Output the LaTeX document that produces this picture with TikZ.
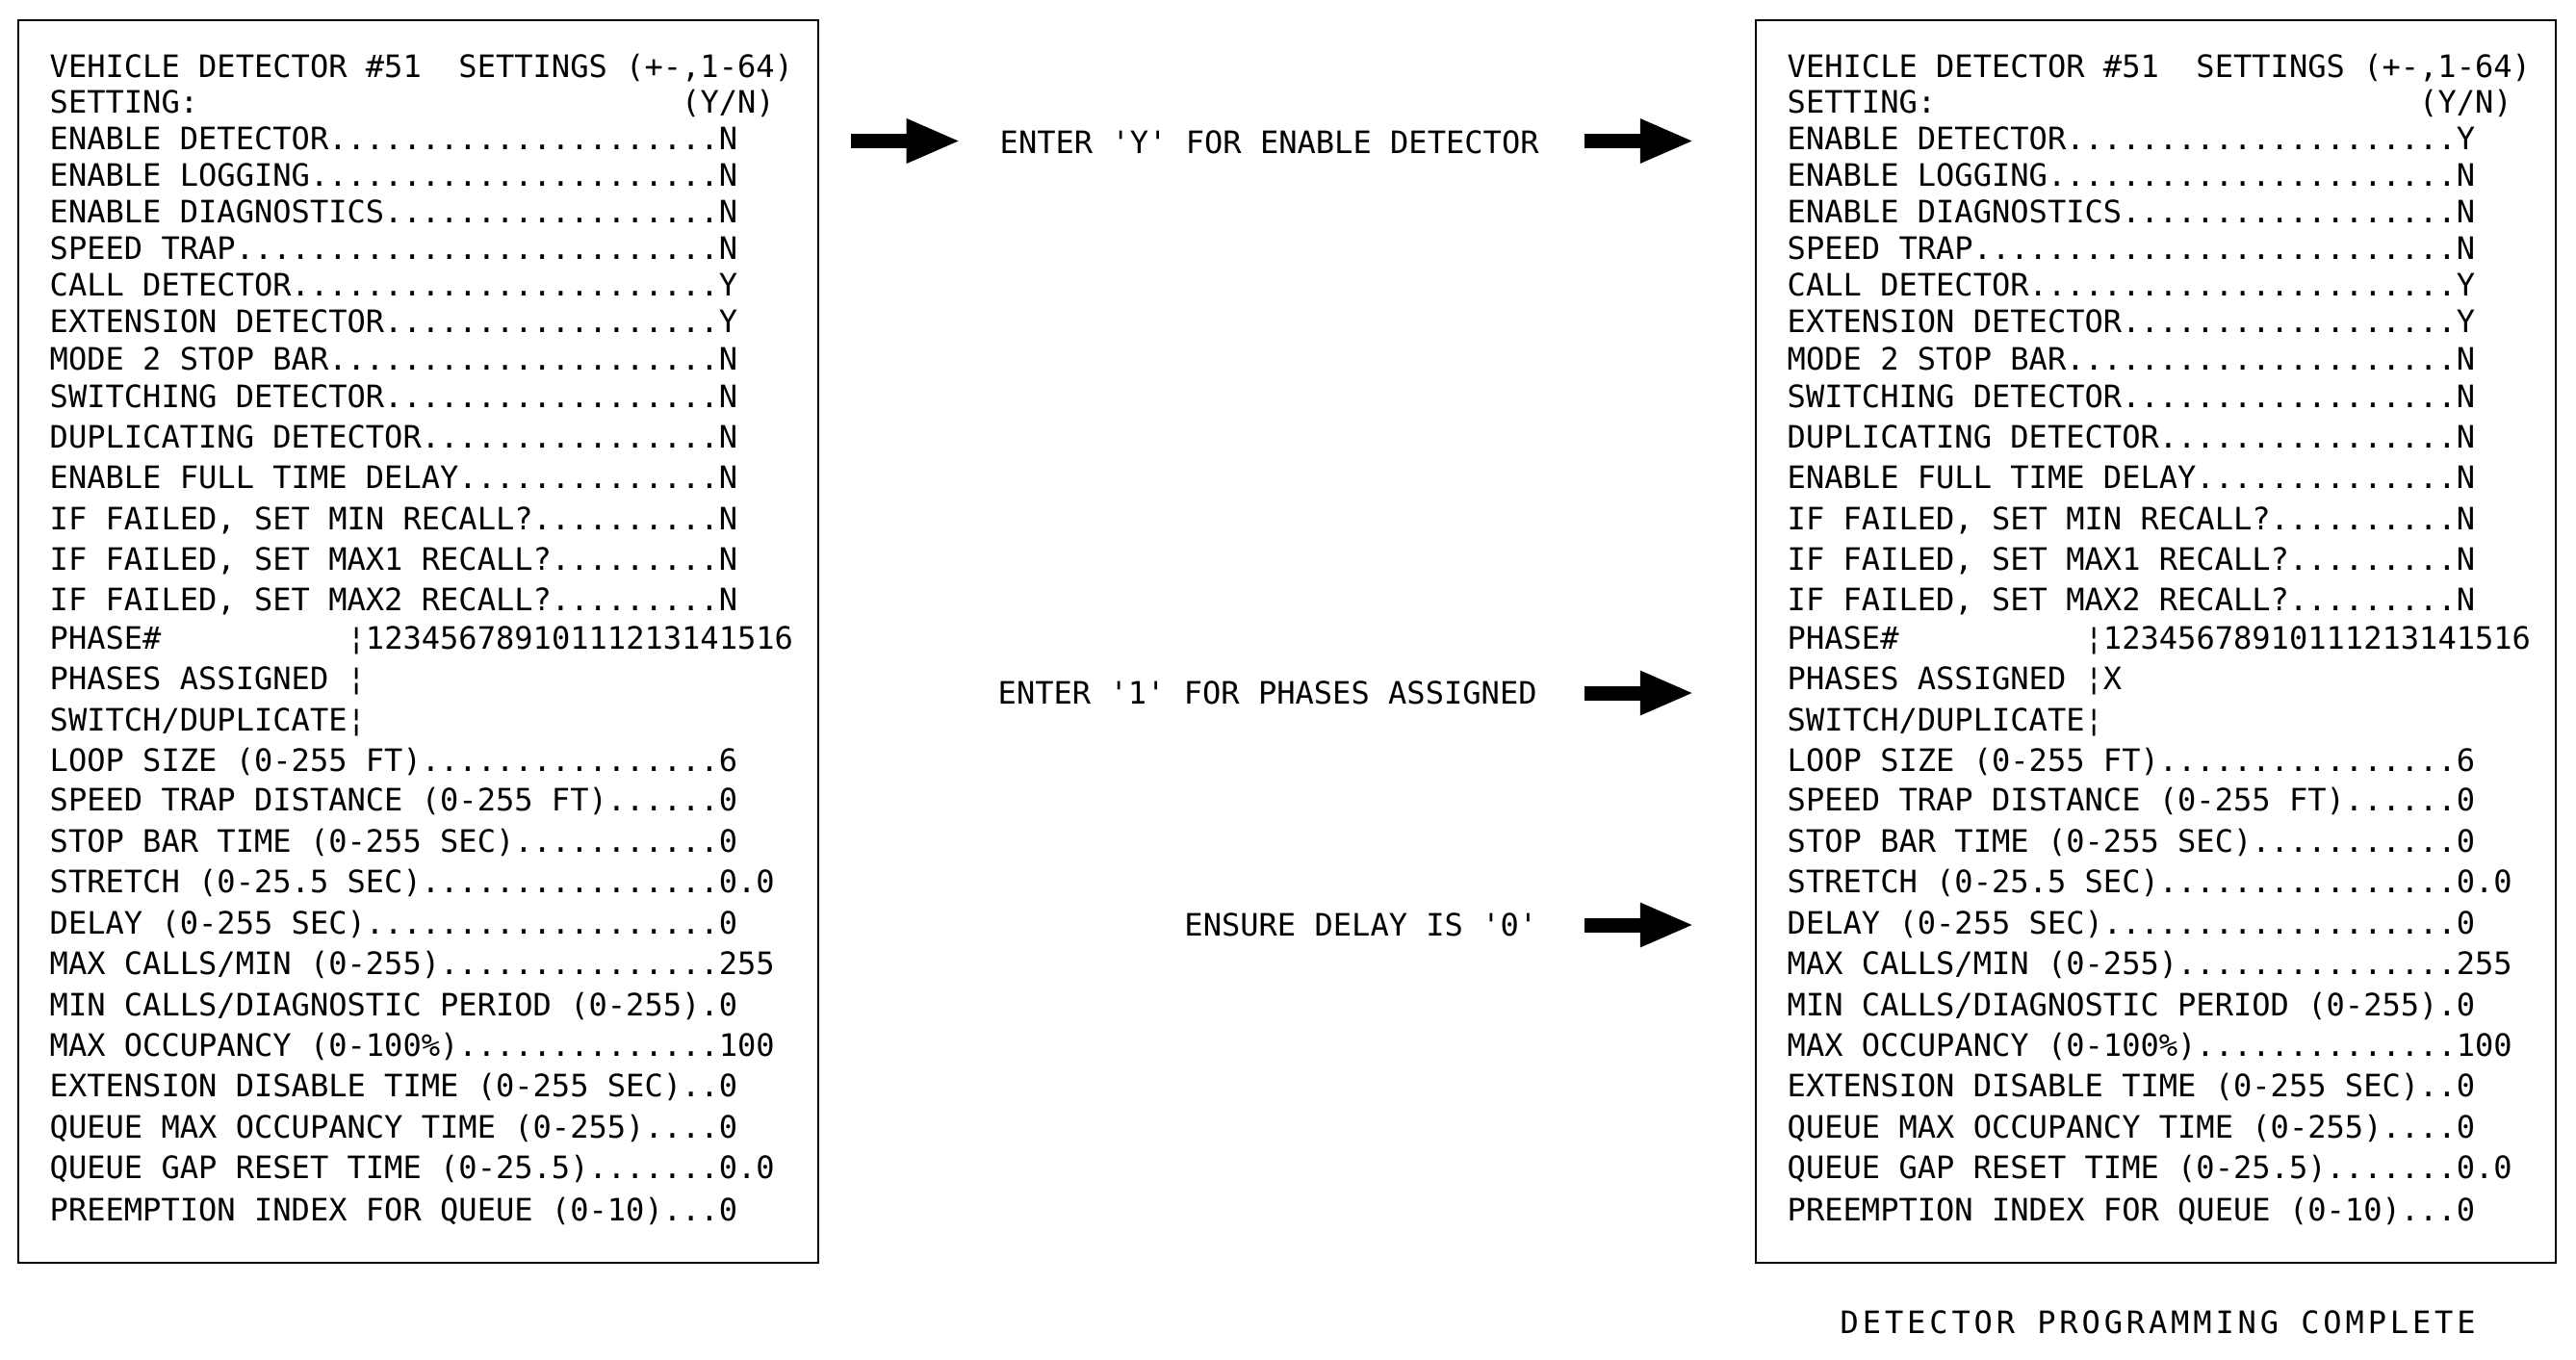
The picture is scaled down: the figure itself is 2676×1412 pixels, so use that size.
\documentclass[tikz,border=0pt]{standalone}
\usepackage{fontspec}
\usetikzlibrary{arrows.meta}
\newfontfamily\screenfont{DejaVu Sans Mono}
\newfontfamily\notefont[LetterSpace=12]{DejaVu Sans Mono}
\newcommand\padspace[1]{\hspace*{#1\fontcharwd\font`0}}

\begin{document}
\begin{tikzpicture}[x=0.01cm,y=-0.01cm,
    screen/.style={font=\screenfont\fontsize{9.12}{11}\selectfont,inner sep=0pt,anchor=base west},
    note/.style={font=\notefont\fontsize{9.12}{11}\selectfont,inner sep=0pt,anchor=base west},
    panel/.style={line width=0.6pt},
    bigarrow/.style={line width=4.27pt,-{Triangle[length=16pt,width=12pt]}}]
            \fill[white] (0,0) rectangle (2676,1412);
            \useasboundingbox (0,0) rectangle (2676,1412);
            % the two controller screens
            \draw[panel] (19,21) rectangle (850,1312);
            \draw[panel] (1824,21) rectangle (2655,1312);
            \foreach \n/\y/\lab/\lv/\rv in {
                1/68.5/{VEHICLE DETECTOR \#51\padspace{2}SETTINGS (+-,1-64)}/{}/{},
                2/105.5/{SETTING:\padspace{26}(Y/N)}/{}/{},
                3/143.5/{ENABLE DETECTOR.....................}/N/Y,
                4/181.5/{ENABLE LOGGING......................}/N/N,
                5/219.5/{ENABLE DIAGNOSTICS..................}/N/N,
                6/257.5/{SPEED TRAP..........................}/N/N,
                7/296/{CALL DETECTOR.......................}/Y/Y,
                8/334/{EXTENSION DETECTOR..................}/Y/Y,
                9/373/{MODE 2 STOP BAR.....................}/N/N,
                10/412/{SWITCHING DETECTOR..................}/N/N,
                11/454/{DUPLICATING DETECTOR................}/N/N,
                12/496/{ENABLE FULL TIME DELAY..............}/N/N,
                13/539/{IF FAILED, SET MIN RECALL?..........}/N/N,
                14/581/{IF FAILED, SET MAX1 RECALL?.........}/N/N,
                15/623/{IF FAILED, SET MAX2 RECALL?.........}/N/N,
                16/663/{PHASE\#\padspace{10}¦12345678910111213141516}/{}/{},
                17/705/{PHASES ASSIGNED ¦}/{}/X,
                18/748/{SWITCH/DUPLICATE¦}/{}/{},
                19/790/{LOOP SIZE (0-255 FT)................}/6/6,
                20/831/{SPEED TRAP DISTANCE (0-255 FT)......}/0/0,
                21/874/{STOP BAR TIME (0-255 SEC)...........}/0/0,
                22/916/{STRETCH (0-25.5 SEC)................}/0.0/0.0,
                23/959/{DELAY (0-255 SEC)...................}/0/0,
                24/1001/{MAX CALLS/MIN (0-255)...............}/255/255,
                25/1044/{MIN CALLS/DIAGNOSTIC PERIOD (0-255).}/0/0,
                26/1086/{MAX OCCUPANCY (0-100\%)..............}/100/100,
                27/1128/{EXTENSION DISABLE TIME (0-255 SEC)..}/0/0,
                28/1171/{QUEUE MAX OCCUPANCY TIME (0-255)....}/0/0,
                29/1213/{QUEUE GAP RESET TIME (0-25.5).......}/0.0/0.0,
                30/1257/{PREEMPTION INDEX FOR QUEUE (0-10)...}/0/0}
            {
                \node[screen] (L\n) at (51,\y+11.7) {\lab\lv};
                \node[screen] (R\n) at (1856,\y+11.7) {\lab\rv};
            }
            % instructions between the screens
            \node[screen] (enterY) at (1038,159.7) {ENTER 'Y' FOR ENABLE DETECTOR};
            \node[screen] (enter1) at (1036,731.7) {ENTER '1' FOR PHASES ASSIGNED};
            \node[screen,anchor=base east] (ensure) at (1598,972.7) {ENSURE DELAY IS '0'};
            \node[note] (done) at (1911,1385.7) {DETECTOR PROGRAMMING COMPLETE};
            \coordinate (a1) at (884,146.5);  \coordinate (b1) at (998,146.5);
            \coordinate (a2) at (1646,146.5); \coordinate (b2) at (1760,146.5);
            \coordinate (a3) at (1646,720);   \coordinate (b3) at (1760,720);
            \coordinate (a4) at (1646,961);   \coordinate (b4) at (1760,961);
            \foreach \k in {1,...,4}
                \draw[bigarrow] (a\k) -- (b\k);
        \end{tikzpicture}
\end{document}
